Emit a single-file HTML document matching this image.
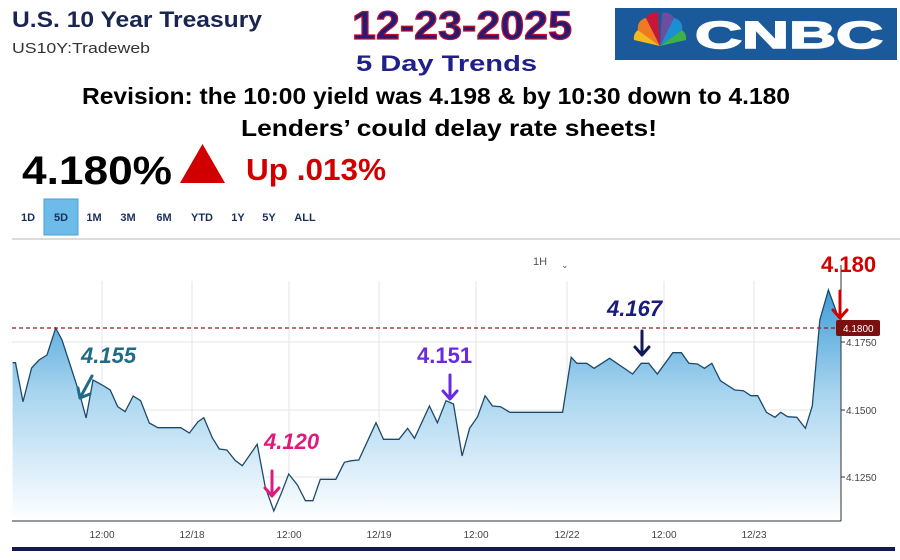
<!DOCTYPE html>
<html><head><meta charset="utf-8"><style>
html,body{margin:0;padding:0;background:#fff;}
svg{display:block;}
text{font-family:"Liberation Sans",sans-serif;}
</style></head><body>
<svg width="900" height="560" viewBox="0 0 900 560" xmlns="http://www.w3.org/2000/svg">
<defs>
<linearGradient id="g" x1="0" y1="0" x2="0" y2="1">
<stop offset="0" stop-color="#3f9dd6"/>
<stop offset="0.45" stop-color="#a9d5f0"/>
<stop offset="1" stop-color="#ffffff"/>
</linearGradient>
</defs>
<!-- header -->
<text x="12" y="27" font-size="22" font-weight="bold" fill="#1a2550" textLength="250" lengthAdjust="spacingAndGlyphs">U.S. 10 Year Treasury</text>
<text x="12" y="53" font-size="15" fill="#333" textLength="138" lengthAdjust="spacingAndGlyphs">US10Y:Tradeweb</text>
<text x="352" y="39" font-size="40" font-weight="bold" fill="#241a78" stroke="#c0102a" stroke-width="1.2" textLength="220" lengthAdjust="spacingAndGlyphs">12-23-2025</text>
<text x="356" y="71" font-size="22" font-weight="bold" fill="#1f2088" textLength="181" lengthAdjust="spacingAndGlyphs">5 Day Trends</text>
<rect x="615" y="8" width="282" height="52" fill="#1b5a9a"/>
<g transform="translate(660,46)">
<path d="M0,0 L-26,-6 A10,10 0 0 1 -22,-16 Z" fill="#f5b81d"/>
<path d="M0,0 L-22,-16 A10,10 0 0 1 -14,-28 Z" fill="#f07a22"/>
<path d="M0,0 L-14,-28 A10,10 0 0 1 -2,-33 Z" fill="#c8163b"/>
<path d="M0,0 L2,-33 A10,10 0 0 1 14,-28 Z" fill="#6b4ea0"/>
<path d="M0,0 L14,-28 A10,10 0 0 1 22,-16 Z" fill="#1b8fd2"/>
<path d="M0,0 L22,-16 A10,10 0 0 1 26,-6 Z" fill="#3db24a"/>
</g>
<text x="695" y="48" font-size="38" font-weight="900" fill="#fff" stroke="#fff" stroke-width="1.5" textLength="188" lengthAdjust="spacingAndGlyphs">CNBC</text>
<text x="82" y="104" font-size="23" font-weight="bold" fill="#000" textLength="708" lengthAdjust="spacingAndGlyphs">Revision: the 10:00 yield was 4.198 &amp; by 10:30 down to 4.180</text>
<text x="241" y="136" font-size="23" font-weight="bold" fill="#000" textLength="416" lengthAdjust="spacingAndGlyphs">Lenders’ could delay rate sheets!</text>
<text x="22" y="184" font-size="40" font-weight="bold" fill="#000" textLength="150" lengthAdjust="spacingAndGlyphs">4.180%</text>
<polygon points="180,183 225,183 202.5,144" fill="#d10000"/>
<text x="246" y="180" font-size="31" font-weight="bold" fill="#d10000" textLength="140" lengthAdjust="spacingAndGlyphs">Up .013%</text>
<rect x="44" y="199" width="34" height="36" fill="#6cbbe9" stroke="#4a9fd6"/>
<g font-size="11" font-weight="bold" fill="#1c2f5c" text-anchor="middle">
<text x="28" y="221">1D</text><text x="61" y="221">5D</text><text x="94" y="221">1M</text><text x="128" y="221">3M</text><text x="164" y="221">6M</text><text x="202" y="221">YTD</text><text x="238" y="221">1Y</text><text x="269" y="221">5Y</text><text x="305" y="221">ALL</text>
</g>
<line x1="12" y1="239" x2="900" y2="239" stroke="#cfcfcf" stroke-width="1.5"/>
<text x="533" y="265" font-size="11" fill="#555">1H</text>
<text x="561" y="268" font-size="9" fill="#555">⌄</text>
<!-- grid -->
<g stroke="#e6e6e6" stroke-width="1">
<line x1="102" y1="281" x2="102" y2="521"/><line x1="192" y1="281" x2="192" y2="521"/><line x1="289" y1="281" x2="289" y2="521"/><line x1="379" y1="281" x2="379" y2="521"/><line x1="476" y1="281" x2="476" y2="521"/><line x1="567" y1="281" x2="567" y2="521"/><line x1="664" y1="281" x2="664" y2="521"/><line x1="754" y1="281" x2="754" y2="521"/>
<line x1="12" y1="342" x2="841" y2="342"/><line x1="12" y1="410" x2="841" y2="410"/><line x1="12" y1="477" x2="841" y2="477"/>
</g>
<path d="M12.6,362.7 L15.5,362.7 L23,401.7 L31.6,368 L39,360 L47,355 L55.7,328 L62,340 L71.8,370 L80.4,396.7 L86.1,418 L93,380 L102.2,385 L110.2,390 L117.7,406.7 L125.1,411.7 L133.2,396 L140.6,400.7 L149.3,423 L157.9,427.7 L180.8,427.7 L189.4,433 L198,421.7 L203.8,417.7 L212.4,438 L219.3,449 L226.8,450 L235.4,460.7 L242.3,465.7 L257.2,444.3 L265.2,486.7 L273.8,511 L281.3,493.3 L288.7,474 L297.4,485 L305.4,500.7 L312.9,500.7 L320.3,479.3 L335.8,479.3 L344.4,462.3 L351.3,460.7 L358.8,460 L376,422.7 L383.5,439.3 L399,439.3 L407.6,428.3 L414.5,438.3 L429.4,406 L437.4,422.7 L446,400.7 L453.5,404 L462.1,456 L469.6,428.3 L477.6,416.7 L485.1,395.7 L492.5,406 L500.6,406.7 L509.8,412.3 L562.6,412.3 L571.2,357.3 L576.9,363.3 L586.7,363.3 L594.1,368.3 L609.6,358.3 L632.6,374 L641.2,363.3 L648.7,363.3 L657.3,374 L672.8,352.7 L681.4,352.7 L688.9,363.3 L697.5,364 L704.4,368.3 L711.8,363.3 L720.4,380.7 L734.8,390 L743.4,390.7 L750.9,395.7 L757.7,395.7 L766.4,412.3 L775,417.3 L780.7,412.3 L787.6,416.7 L796.8,417.3 L805.4,428.3 L812.3,406 L819.8,320 L828.4,290 L837,313.3 L841,320 L841,521 L12.6,521 Z" fill="url(#g)"/>
<path d="M12.6,362.7 L15.5,362.7 L23,401.7 L31.6,368 L39,360 L47,355 L55.7,328 L62,340 L71.8,370 L80.4,396.7 L86.1,418 L93,380 L102.2,385 L110.2,390 L117.7,406.7 L125.1,411.7 L133.2,396 L140.6,400.7 L149.3,423 L157.9,427.7 L180.8,427.7 L189.4,433 L198,421.7 L203.8,417.7 L212.4,438 L219.3,449 L226.8,450 L235.4,460.7 L242.3,465.7 L257.2,444.3 L265.2,486.7 L273.8,511 L281.3,493.3 L288.7,474 L297.4,485 L305.4,500.7 L312.9,500.7 L320.3,479.3 L335.8,479.3 L344.4,462.3 L351.3,460.7 L358.8,460 L376,422.7 L383.5,439.3 L399,439.3 L407.6,428.3 L414.5,438.3 L429.4,406 L437.4,422.7 L446,400.7 L453.5,404 L462.1,456 L469.6,428.3 L477.6,416.7 L485.1,395.7 L492.5,406 L500.6,406.7 L509.8,412.3 L562.6,412.3 L571.2,357.3 L576.9,363.3 L586.7,363.3 L594.1,368.3 L609.6,358.3 L632.6,374 L641.2,363.3 L648.7,363.3 L657.3,374 L672.8,352.7 L681.4,352.7 L688.9,363.3 L697.5,364 L704.4,368.3 L711.8,363.3 L720.4,380.7 L734.8,390 L743.4,390.7 L750.9,395.7 L757.7,395.7 L766.4,412.3 L775,417.3 L780.7,412.3 L787.6,416.7 L796.8,417.3 L805.4,428.3 L812.3,406 L819.8,320 L828.4,290 L837,313.3 L841,320" fill="none" stroke="#1d4a6a" stroke-width="1.3"/>
<!-- axes -->
<line x1="12" y1="521" x2="841" y2="521" stroke="#333" stroke-width="1"/>
<line x1="841" y1="265" x2="841" y2="521" stroke="#333" stroke-width="1"/>
<line x1="12" y1="328" x2="841" y2="328" stroke="#9a1a1a" stroke-width="1.2" stroke-dasharray="4,3"/>
<rect x="836" y="320" width="44" height="16" rx="2" fill="#7a1010"/>
<text x="843" y="332" font-size="10" fill="#fff">4.1800</text>
<g font-size="10" fill="#444">
<line x1="841" y1="342" x2="845" y2="342" stroke="#333"/><text x="846" y="346">4.1750</text>
<line x1="841" y1="410" x2="845" y2="410" stroke="#333"/><text x="846" y="414">4.1500</text>
<line x1="841" y1="477" x2="845" y2="477" stroke="#333"/><text x="846" y="481">4.1250</text>
</g>
<g font-size="10" fill="#444" text-anchor="middle">
<text x="102" y="538">12:00</text><text x="192" y="538">12/18</text><text x="289" y="538">12:00</text><text x="379" y="538">12/19</text><text x="476" y="538">12:00</text><text x="567" y="538">12/22</text><text x="664" y="538">12:00</text><text x="754" y="538">12/23</text>
</g>
<rect x="12" y="547" width="883" height="4" fill="#141a4a"/>
<!-- annotations -->
<g font-weight="bold" font-style="italic">
<text x="81" y="363" font-size="22" fill="#1f6b88">4.155</text>
<text x="264" y="449" font-size="22" fill="#e0197d">4.120</text>
<text x="417" y="363" font-size="22" fill="#6a2be0" font-style="normal">4.151</text>
<text x="607" y="316" font-size="22" fill="#1b1b7a">4.167</text>
<text x="821" y="272" font-size="22" fill="#d10000" font-style="normal">4.180</text>
</g>
<g stroke-linecap="round" stroke-linejoin="round" fill="none" stroke-width="3">
<path d="M92,376 L80,398 M78,388 L80,398 L90,394" stroke="#1f6b88"/>
<path d="M272,471 L272,496 M265,488 L272,496 L279,488" stroke="#e0197d"/>
<path d="M450,375 L450,399 M443,391 L450,399 L457,391" stroke="#6a2be0"/>
<path d="M642,331 L642,355 M635,347 L642,355 L649,347" stroke="#111a55"/>
<path d="M840,291 L840,318 M833,310 L840,318 L847,310" stroke="#d10000"/>
</g>
</svg>
</body></html>
